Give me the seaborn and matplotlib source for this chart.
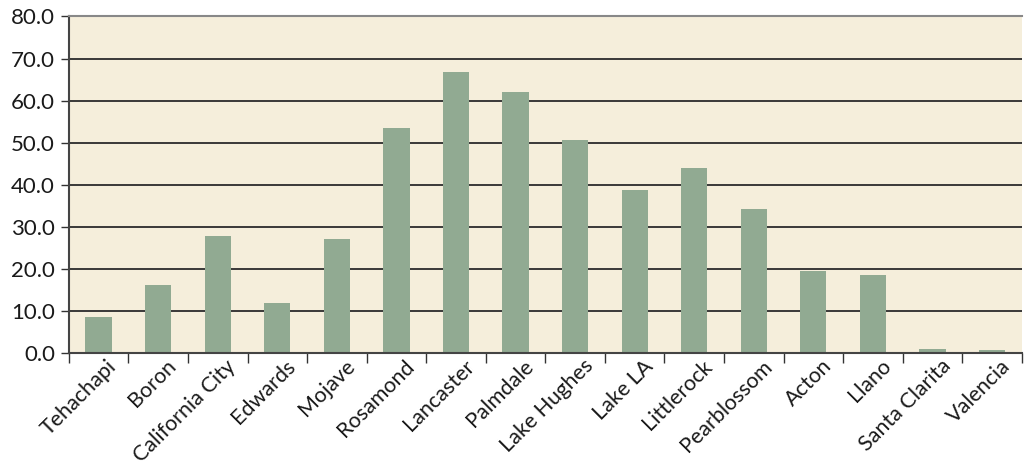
import matplotlib
matplotlib.use("Agg")
import matplotlib.pyplot as plt
import matplotlib.transforms as mtransforms
import seaborn as sns
import pandas as pd
import numpy as np

towns = ['Tehachapi', 'Boron', 'California City', 'Edwards', 'Mojave', 'Rosamond',
         'Lancaster', 'Palmdale', 'Lake Hughes', 'Lake LA', 'Littlerock', 'Pearblossom',
         'Acton', 'Llano', 'Santa Clarita', 'Valencia']
values = [8.5, 16.1, 27.8, 11.8, 27.1, 53.5, 66.8, 62.1, 50.6, 38.7, 44.0, 34.2,
          19.4, 18.5, 0.9, 0.7]
y_ticks = [0, 10, 20, 30, 40, 50, 60, 70, 80]

df = pd.DataFrame({'town': towns, 'value': values})

sns.set_style('white')
plt.rcParams['font.family'] = ['Lato', 'DejaVu Sans']

fig, ax = plt.subplots(figsize=(10.27, 4.69), dpi=100)
fig.subplots_adjust(left=0.067, right=0.995, top=0.965, bottom=0.247)

ax.set_facecolor('#f5eedb')
for y in y_ticks[1:]:
    ax.axhline(y, color='#2b2b2b', lw=1.3, zorder=0.5)

sns.barplot(data=df, x='town', y='value', color='#91aa92', width=0.44,
            saturation=1, linewidth=0, ax=ax, zorder=2)

ax.set_xlim(-0.5, len(towns) - 0.5)
ax.set_ylim(0, 80)
ax.set_yticks(y_ticks)
ax.set_yticklabels([f'{v:.1f}' for v in y_ticks], fontsize=16, color='#1a1a1a')
ax.set_xlabel('')
ax.set_ylabel('')

ax.set_xticks(np.arange(len(towns)))
ax.set_xticklabels(towns, rotation=45, ha='right', rotation_mode='anchor',
                   fontsize=15.5, color='#1a1a1a')
ax.tick_params(axis='x', which='major', length=0, pad=2)
# nudge the rotated labels a little to the right, as in the original
shift = mtransforms.ScaledTranslation(8 / 100, 0, fig.dpi_scale_trans)
for lbl in ax.get_xticklabels():
    lbl.set_transform(lbl.get_transform() + shift)
ax.set_xticks(np.arange(len(towns) + 1) - 0.5, minor=True)
ax.tick_params(axis='x', which='minor', length=7, width=1, color='#333333',
               direction='out', bottom=True)
ax.tick_params(axis='y', length=6, width=1, color='#333333', direction='out', left=True, pad=4)

for side in ['left', 'bottom']:
    ax.spines[side].set_color('#444444')
    ax.spines[side].set_linewidth(1.5)
ax.spines['top'].set_color('#888888')
ax.spines['top'].set_linewidth(1.5)
ax.spines['right'].set_visible(False)

fig.savefig('out.png', dpi=100)
